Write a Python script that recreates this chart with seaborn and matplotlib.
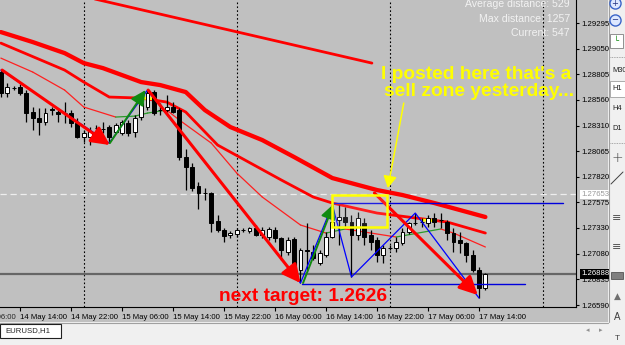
import matplotlib
matplotlib.use("Agg")
import matplotlib.pyplot as plt
import matplotlib.transforms as mtransforms
from matplotlib.patches import Rectangle
from matplotlib.lines import Line2D
import numpy as np
import pandas as pd
import seaborn as sns

sns.set_theme(style="ticks")
plt.rcParams['font.family'] = ['Liberation Sans', 'DejaVu Sans']

# ---------------- data (EURUSD H1, hours counted from 14 May 14:00) ----------------
hours = list(range(-3, 74))
opens = [1.28827, 1.28625, 1.28673, 1.28683, 1.28625, 1.28443, 1.28385, 1.28347, 1.28472, 1.28443,
         1.28433, 1.28433, 1.28337, 1.28203, 1.28203, 1.28289, 1.28280, 1.28299, 1.28251, 1.28241,
         1.28337, 1.28251, 1.28395, 1.28491, 1.28635, 1.28462, 1.28462, 1.28491, 1.28462, 1.28011,
         1.27915, 1.27732, 1.27665, 1.27665, 1.27396, 1.27310, 1.27262, 1.27272, 1.27310, 1.27300,
         1.27329, 1.27262, 1.27243, 1.27310, 1.27233, 1.27099, 1.27224, 1.26926, 1.27118, 1.27099,
         1.26993, 1.27070, 1.27243, 1.27406, 1.27435, 1.27387, 1.27262, 1.27377, 1.27262, 1.27214,
         1.27070, 1.27137, 1.27137, 1.27185, 1.27291, 1.27377, 1.27387, 1.27377, 1.27425, 1.27406,
         1.27387, 1.27281, 1.27214, 1.27185, 1.27070, 1.26926, 1.26753]
highs = [1.28846, 1.28721, 1.28692, 1.28712, 1.28654, 1.28491, 1.28481, 1.28481, 1.28491, 1.28462,
         1.28539, 1.28462, 1.28385, 1.28270, 1.28299, 1.28318, 1.28347, 1.28318, 1.28337, 1.28366,
         1.28366, 1.28414, 1.28577, 1.28654, 1.28654, 1.28529, 1.28606, 1.28539, 1.28481, 1.28088,
         1.27953, 1.27771, 1.27713, 1.27675, 1.27454, 1.27329, 1.27300, 1.27329, 1.27329, 1.27339,
         1.27358, 1.27339, 1.27339, 1.27339, 1.27243, 1.27243, 1.27243, 1.27137, 1.27377, 1.27166,
         1.27118, 1.27291, 1.27550, 1.27550, 1.27531, 1.27454, 1.27483, 1.27425, 1.27310, 1.27243,
         1.27166, 1.27166, 1.27243, 1.27329, 1.27387, 1.27473, 1.27425, 1.27454, 1.27473, 1.27473,
         1.27406, 1.27329, 1.27291, 1.27195, 1.27118, 1.26955, 1.26897]
lows = [1.28587, 1.28587, 1.28654, 1.28606, 1.28347, 1.28270, 1.28222, 1.28318, 1.28414, 1.28347,
        1.28337, 1.28299, 1.28193, 1.28155, 1.28126, 1.28251, 1.28241, 1.28145, 1.28241, 1.28222,
        1.28212, 1.28203, 1.28366, 1.28462, 1.28414, 1.28414, 1.28443, 1.28433, 1.27982, 1.27694,
        1.27684, 1.27512, 1.27598, 1.27291, 1.27291, 1.27195, 1.27233, 1.27243, 1.27291, 1.27281,
        1.27252, 1.27233, 1.27214, 1.27195, 1.27022, 1.27070, 1.26907, 1.26801, 1.26926, 1.27022,
        1.26974, 1.27051, 1.27233, 1.27166, 1.27339, 1.26859, 1.27214, 1.27166, 1.27118, 1.27003,
        1.26993, 1.27118, 1.27099, 1.27166, 1.27272, 1.27358, 1.27339, 1.27339, 1.27339, 1.27329,
        1.27214, 1.27099, 1.27089, 1.27003, 1.26907, 1.26657, 1.26734]
closes = [1.28625, 1.28683, 1.28675, 1.28625, 1.28433, 1.28385, 1.28347, 1.28433, 1.28462, 1.28424,
          1.28433, 1.28337, 1.28203, 1.28241, 1.28260, 1.28289, 1.28280, 1.28203, 1.28318, 1.28347,
          1.28241, 1.28385, 1.28529, 1.28625, 1.28433, 1.28462, 1.28491, 1.28443, 1.28011, 1.27915,
          1.27713, 1.27665, 1.27665, 1.27377, 1.27310, 1.27252, 1.27281, 1.27310, 1.27310, 1.27329,
          1.27262, 1.27310, 1.27320, 1.27233, 1.27118, 1.27214, 1.26926, 1.27118, 1.27108, 1.27041,
          1.27089, 1.27243, 1.27387, 1.27435, 1.27387, 1.27262, 1.27425, 1.27243, 1.27195, 1.27070,
          1.27137, 1.27137, 1.27195, 1.27291, 1.27377, 1.27377, 1.27387, 1.27425, 1.27387, 1.27406,
          1.27281, 1.27195, 1.27185, 1.27070, 1.26926, 1.26753, 1.26888]

# moving averages
ma_slow_t = [-3, 2, 7, 10, 13, 19, 22, 26, 29, 33, 38, 43, 49, 56, 60, 65, 73]
ma_slow_p = [1.29211, 1.29115, 1.29009, 1.28913, 1.28865, 1.28731, 1.28702, 1.28635, 1.28462,
             1.28299, 1.28174, 1.28011, 1.27809, 1.27694, 1.27646, 1.27569, 1.27435]
ma_mid_t = [-3, 7, 10, 14, 19, 23, 26, 31, 41, 46, 49, 56, 67, 73]
ma_mid_p = [1.29105, 1.28846, 1.28731, 1.28587, 1.28577, 1.28539, 1.28443, 1.28126, 1.27790,
            1.27627, 1.27569, 1.27473, 1.27387, 1.27281]
ma_mid_flat_t = [[19, 21], [63, 65]]
ma_mid_flat_p = [[1.28577, 1.28570], [1.27406, 1.27400]]
ma_fast_t = [-3, 2, 7, 10, 15, 18, 20, 23, 25, 30, 34, 38, 44, 48, 51, 59, 66, 68, 73]
ma_fast_p = [1.28961, 1.28827, 1.28654, 1.28491, 1.28395, 1.28404, 1.28433, 1.28462, 1.28366,
             1.28145, 1.27857, 1.27627, 1.27358, 1.27281, 1.27320, 1.27243, 1.27320, 1.27281, 1.27147]

# zigzag
zz_t = [-3, 14, 20, 44, 49, 52, 62, 72]
zz_p = [1.28846, 1.28145, 1.28654, 1.26801, 1.27550, 1.26859, 1.27473, 1.26657]

# drawn objects
red_arrows = [((-2.8, 1.28846), (14.1, 1.28126)),
              ((20.1, 1.28654), (44.0, 1.26801)),
              ((55.6, 1.27665), (71.8, 1.26686))]
green_arrows = [((14.1, 1.28145), (19.7, 1.28654)),
                ((44.4, 1.26801), (49.2, 1.27560))]
top_line_t = [11.0, 55.2]
top_line_p = [1.29539, 1.28913]
blue_levels = [(1.27569, 49.0, 85.2), (1.26792, 44.2, 79.2)]
zone_t = (48.9, 57.6)
zone_p = (1.27339, 1.27646)
yellow_arrow = ((60.2, 1.28529), (57.7, 1.27713))
day_breaks = [10, 34, 58, 82]
bid_price = 1.26888
ask_price = 1.27653

ytick_vals = [1.29295, 1.29050, 1.28805, 1.28560, 1.28310, 1.28065, 1.27820, 1.27575,
              1.27330, 1.27080, 1.26835, 1.26590]
ytick_labels = ["1.29295", "1.29050", "1.28805", "1.28560", "1.28310", "1.28065", "1.27820",
                "1.27575", "1.27330", "1.27080", "1.26835", "1.26590"]
xtick_vals = [0, 8, 16, 24, 32, 40, 48, 56, 64, 72]
xtick_labels = ["14 May 14:00", "14 May 22:00", "15 May 06:00", "15 May 14:00", "15 May 22:00",
                "16 May 06:00", "16 May 14:00", "16 May 22:00", "17 May 06:00", "17 May 14:00"]
info_lines = ["Average distance: 529", "Max distance: 1257", "Current: 547"]

# ---------------- figure ----------------
W, H = 625, 345
fig = plt.figure(figsize=(6.25, 3.45), dpi=100, facecolor='#f0f0f0')


def fx(px):
    return px / W


def fy(py):
    return 1 - py / H


fig.patches.append(Rectangle((0, fy(322)), fx(608), 322 / H, transform=fig.transFigure,
                             facecolor='#c0c0c0', edgecolor='none', zorder=-5))
fig.add_artist(Line2D([0, fx(608)], [fy(322.5), fy(322.5)], transform=fig.transFigure,
                      color='#a0a0a0', lw=0.8))
fig.add_artist(Line2D([fx(608.5), fx(608.5)], [fy(0), fy(322)], transform=fig.transFigure,
                      color='#a0a0a0', lw=0.8))

ax = fig.add_axes([0, fy(307), fx(576), 307 / H])
ax.set_zorder(1)
ax.set_facecolor('#c0c0c0')
ax.set_xlim(-20 / 6.375, (576 - 20) / 6.375)
ax.set_ylim(1.265708, 1.29519)
for s in ['left', 'top']:
    ax.spines[s].set_visible(False)
for s in ['right', 'bottom']:
    ax.spines[s].set_color('black')
    ax.spines[s].set_linewidth(0.8)

# separators & price lines
for d in day_breaks:
    ax.axvline(d, color='black', lw=0.8, ls=(0, (1.5, 2)), zorder=1)
ax.axhline(ask_price, color='#eeeeee', lw=0.9, ls=(0, (5, 3)), zorder=1.5)
ax.axhline(bid_price, color='#666666', lw=1.6, zorder=1.5)

# moving averages
sns.lineplot(x=ma_slow_t, y=ma_slow_p, ax=ax, color='#ff0000', linewidth=3.1, sort=False,
             estimator=None, zorder=2)
sns.lineplot(x=ma_mid_t, y=ma_mid_p, ax=ax, color='#ff0000', linewidth=2.0, sort=False,
             estimator=None, zorder=2)
for tt, pp in zip(ma_mid_flat_t, ma_mid_flat_p):
    ax.plot(tt, pp, color='#ffff00', lw=2.0, zorder=2.1, solid_capstyle='butt')
for i in range(len(ma_fast_t) - 1):
    seg_t = ma_fast_t[i:i + 2]
    seg_p = ma_fast_p[i:i + 2]
    col = '#2a9a2a' if seg_p[1] > seg_p[0] else '#ff2020'
    ax.plot(seg_t, seg_p, color=col, lw=0.9, zorder=2)

# candles
o = np.array(opens); c = np.array(closes); hi = np.array(highs); lo = np.array(lows)
t = np.array(hours)
ax.vlines(t, lo, hi, color='black', lw=0.9, zorder=3)
body_bot = np.minimum(o, c)
body_h = np.maximum(np.abs(c - o), 0.000012)
face = ['white' if cc > oo else 'black' for oo, cc in zip(o, c)]
ax.bar(t, body_h, bottom=body_bot, width=0.62, color=face, edgecolor='black', linewidth=0.7,
       zorder=3.1)

# zigzag and blue levels
sns.lineplot(x=zz_t, y=zz_p, ax=ax, color='#0000ff', linewidth=0.9, sort=False, estimator=None,
             zorder=4)
for lvl, t0, t1 in blue_levels:
    ax.plot([t0, t1], [lvl, lvl], color='#0000dd', lw=1.0, zorder=4)

# top red trend line
ax.plot(top_line_t, top_line_p, color='#ff0000', lw=2.0, zorder=4)

# arrows
for (s, e) in red_arrows:
    ax.annotate('', xy=e, xytext=s, annotation_clip=False, zorder=5,
                arrowprops=dict(arrowstyle='-|>,head_length=1.0,head_width=0.5', color='#ff0000',
                                lw=2.2, mutation_scale=11, shrinkA=0, shrinkB=0))
for (s, e) in green_arrows:
    ax.annotate('', xy=e, xytext=s, annotation_clip=False, zorder=5,
                arrowprops=dict(arrowstyle='-|>,head_length=1.0,head_width=0.5', color='#108a10',
                                lw=1.4, mutation_scale=9, shrinkA=0, shrinkB=0))

# sell zone rectangle
ax.add_patch(Rectangle((zone_t[0], zone_p[0]), zone_t[1] - zone_t[0], zone_p[1] - zone_p[0],
                       facecolor=(1, 1, 1, 0.12), edgecolor='#ffff00', lw=1.8, zorder=5))
ax.annotate('', xy=yellow_arrow[1], xytext=yellow_arrow[0], zorder=5,
            arrowprops=dict(arrowstyle='-|>,head_length=0.8,head_width=0.45', color='#ffff00',
                            lw=1.1, mutation_scale=9, shrinkA=0, shrinkB=0))

# texts
ax.text(56.6, 1.28808, "I posted here that's a", color='#ffff00', fontsize=13.8,
        fontweight='bold', ha='left', va='center', zorder=6)
ax.text(57.1, 1.28644, "sell zone yesterday...", color='#ffff00', fontsize=13.8,
        fontweight='bold', ha='left', va='center', zorder=6)
ax.text(31.2, 1.26676, "next target: 1.2626", color='#ff0000', fontsize=13.8,
        fontweight='bold', ha='left', va='center', zorder=6)
for k, (s, ypx) in enumerate(zip(info_lines, [4, 19, 33])):
    ax.text(570 / 576, 1 - ypx / 307, s, transform=ax.transAxes, ha='right', va='center',
            color='#f2f2f2', fontsize=7.6, zorder=6)

# axes ticks
ax.yaxis.tick_right()
ax.set_yticks(ytick_vals)
ax.set_yticklabels(ytick_labels)
ax.tick_params(axis='y', direction='out', length=2, width=0.8, pad=1.5, labelsize=5.6,
               colors='black')
ax.set_xticks(xtick_vals)
ax.set_xticklabels(xtick_labels)
ax.tick_params(axis='x', direction='out', length=3, width=0.8, pad=2, labelsize=5.6,
               colors='black')
for lab in ax.get_xticklabels():
    lab.set_ha('left')
ax.set_xlabel('')
ax.set_ylabel('')

xoff = mtransforms.ScaledTranslation(0, -5 / 72, fig.dpi_scale_trans)
ax.text(-8, 0, "14 May 06:00", transform=ax.get_xaxis_transform() + xoff, ha='left', va='top',
        fontsize=5.6, clip_on=False)
yoff = mtransforms.ScaledTranslation(3.5 / 72, 0, fig.dpi_scale_trans)
ytr = ax.get_yaxis_transform() + yoff
ax.text(1, 1.29540, "1.29540", transform=ytr, ha='left', va='center', fontsize=5.6, clip_on=False)
ax.text(1, ask_price, "1.27653", transform=ytr, ha='left', va='center', fontsize=5.6,
        color='#9a9a9a', clip_on=False, zorder=7,
        bbox=dict(boxstyle='square,pad=0.15', fc='white', ec='none'))
ax.text(1, bid_price, "1.26888", transform=ytr, ha='left', va='center', fontsize=5.6,
        color='white', clip_on=False, zorder=7,
        bbox=dict(boxstyle='square,pad=0.15', fc='black', ec='none'))

# ---------------- bottom tab bar ----------------
fig.patches.append(Rectangle((0, fy(338)), fx(61), 14 / H, transform=fig.transFigure,
                             facecolor='white', edgecolor='#202020', lw=0.8, zorder=2))
fig.text(fx(5), fy(331), "EURUSD,H1", fontsize=5.6, va='center', ha='left', zorder=3)
fig.text(fx(588), fy(331), "\u25c2", fontsize=5, va='center', ha='center', color='#909090')
fig.text(fx(601), fy(331), "\u25b8", fontsize=5, va='center', ha='center', color='#909090')

# ---------------- right toolbar ----------------
for ym, sym in [(3, '+'), (20, '\u2212')]:
    fig.add_artist(Line2D([fx(615)], [fy(ym)], transform=fig.transFigure, marker='o',
                          markersize=8, mfc='#dde8ff', mec='#3a64c8', mew=1))
    fig.text(fx(615), fy(ym), sym, fontsize=6, ha='center', va='center', color='#203080',
             family=['DejaVu Sans'])
fig.patches.append(Rectangle((fx(610), fy(48)), fx(13), 14 / H, transform=fig.transFigure,
                             facecolor='white', edgecolor='#808080', lw=0.6))
fig.text(fx(616), fy(41), "\u2514", fontsize=6, ha='center', va='center', color='#108a10',
         family=['DejaVu Sans'])
for ys in [57, 143]:
    fig.add_artist(Line2D([fx(610), fx(625)], [fy(ys), fy(ys)], transform=fig.transFigure,
                          color='#909090', lw=0.6, ls=(0, (1, 1))))
fig.patches.append(Rectangle((fx(610), fy(97)), fx(15), 16 / H, transform=fig.transFigure,
                             facecolor='white', edgecolor='#a0a0a0', lw=0.6))
for ym, lab in [(70, "M30"), (89, "H1"), (109, "H4"), (128, "D1")]:
    fig.text(fx(612), fy(ym), lab, fontsize=5.4, ha='left', va='center', color='#202020')
fig.text(fx(617), fy(158), "+", fontsize=10, ha='center', va='center', color='#404040',
         family=['DejaVu Sans'], fontweight='light')
fig.add_artist(Line2D([fx(611), fx(623)], [fy(184), fy(172)], transform=fig.transFigure,
                      color='#404040', lw=0.7))
for ym in [218, 247]:
    fig.text(fx(617), fy(ym), "\u2261", fontsize=8, ha='center', va='center', color='#505050',
             family=['DejaVu Sans'])
fig.patches.append(Rectangle((fx(611), fy(279)), fx(12), 7 / H, transform=fig.transFigure,
                             facecolor='#808080', edgecolor='#404040', lw=0.5))
fig.text(fx(617), fy(296), "\u25b2", fontsize=6.5, ha='center', va='center', color='#707070',
         family=['DejaVu Sans'])
fig.text(fx(617), fy(317), "A", fontsize=7, ha='center', va='center', color='#404040')
fig.text(fx(617), fy(339), "T", fontsize=6, ha='center', va='center', color='#404040')

fig.savefig("out.png", dpi=100, facecolor=fig.get_facecolor())
